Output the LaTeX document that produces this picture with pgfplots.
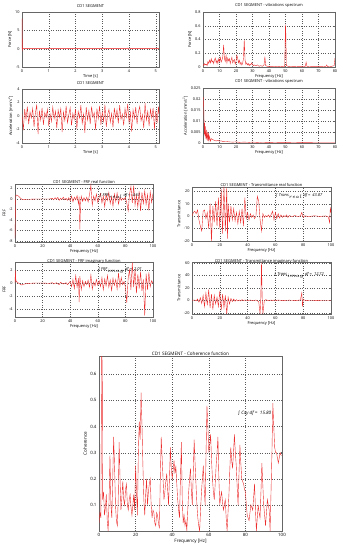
\documentclass[border=0pt]{standalone}
\usepackage{fontspec}
\setmainfont{Open Sans}
\newfontfamily\djv{DejaVu Sans}
\usepackage{pgfplots}
\pgfplotsset{compat=1.18}
\definecolor{lc}{RGB}{235,45,45}
\pgfplotsset{mat/.style={
 scale only axis, anchor=south west,
 font=\fontsize{4}{4.8}\selectfont,
 tick label style={font=\fontsize{3.8}{4.2}\selectfont},
 /pgf/number format/assume math mode=true,
 /pgf/number format/fixed,
 scaled ticks=false,
 grid=major, major grid style={dotted, black!65, line width=0.25pt},
 axis line style={black!60, line width=0.3pt},
 tick style={black!60, line width=0.3pt}, major tick length=1.2pt,
 tick align=inside,
 xticklabel style={yshift=1pt},
 yticklabel style={xshift=1pt},
 title style={yshift=-5pt},
 xlabel style={yshift=4.5pt},
 ylabel style={yshift=-3.5pt},
 cycle list={{lc, line width=0.3pt, mark=none, opacity=0.85}},
}}
\newcommand{\ann}{\fontsize{4}{4.8}\selectfont\itshape}
\newcommand{\integ}{{\djv\upshape ∫}}
\begin{document}
\begin{tikzpicture}
\useasboundingbox (0,0) rectangle (343pt,550pt);
% P1 force time
\begin{axis}[mat, at={(22pt,483pt)}, width=137pt, height=55pt,
 xmin=0, xmax=5.12, ymin=-5, ymax=10, xtick={0,1,2,3,4,5}, ytick={-5,0,5,10},
 title={CD1 SEGMENT}, xlabel={Time [s]}, ylabel={Force [N]}]
\addplot coordinates {(0,0) (0.005,8.2) (0.01,3) (0.02,-0.3) (0.03,0.1) (0.05,-0.05) (0.1,0) (1,0) (2,0) (3,0) (3.9,0) (3.95,0.15) (4.0,-0.1) (4.05,0) (5.12,0)};
\addplot[lc, line width=0.8pt, opacity=0.3] coordinates {(0,0) (5.12,0)};
\end{axis}
% P2 force spectrum
\begin{axis}[mat, at={(203pt,483pt)}, width=132pt, height=55pt,
 xmin=0, xmax=80, ymin=0, ymax=0.8, xtick={0,10,...,80}, ytick={0,0.2,0.4,0.6,0.8},
 title={CD1 SEGMENT - vibrations spectrum}, xlabel={Frequency [Hz]}, ylabel={Force [N]}]
\addplot coordinates {(0,0.04) (0.5,0.02) (1,0.05) (1.5,0.03) (2,0.04) (2.5,0.02) (3,0.08) (3.5,0.05) (4,0.10) (4.5,0.06) (5,0.12) (5.5,0.07) (6,0.09) (6.5,0.05) (7,0.11) (7.5,0.13) (8,0.06) (8.5,0.10) (9,0.05) (9.5,0.12) (10,0.08) (10.5,0.14) (11,0.07) (11.5,0.10) (12,0.15) (12.5,0.32) (13,0.12) (13.5,0.08) (14,0.17) (14.5,0.06) (15,0.13) (15.5,0.09) (16,0.12) (16.5,0.05) (17,0.10) (17.5,0.14) (18,0.06) (18.5,0.09) (19,0.11) (19.5,0.04) (20,0.08) (20.5,0.17) (21,0.13) (21.5,0.06) (22,0.10) (22.5,0.04) (23,0.07) (23.5,0.03) (24,0.05) (24.5,0.12) (25,0.39) (25.5,0.10) (26,0.04) (26.5,0.06) (27,0.03) (27.5,0.05) (28,0.02) (28.5,0.04) (29,0.03) (29.5,0.06) (30,0.04) (30.5,0.02) (31,0.03) (32,0.02) (33,0.03) (34,0.01) (35,0.02) (36,0.01) (37,0.03) (37.5,0.15) (38,0.02) (39,0.01) (40,0.01) (42,0.01) (44,0.005) (46,0.01) (48,0.005) (49.5,0.01) (50,0.62) (50.2,0.48) (50.5,0.02) (52,0.005) (55,0.01) (58,0.005) (60,0.005) (62,0.01) (62.5,0.07) (63,0.01) (66,0.005) (70,0.005) (72,0.005) (74.5,0.01) (75,0.03) (75.5,0.005) (78,0.01) (79.5,0.02) (80,0.13)};
\end{axis}
% P3 acceleration time
\begin{axis}[mat, at={(22pt,407pt)}, width=137pt, height=54pt,
 xmin=0, xmax=5.12, ymin=-4, ymax=4, xtick={0,1,2,3,4,5}, ytick={-4,-2,0,2,4},
 title={CD1 SEGMENT}, xlabel={Time [s]}, ylabel={Acceleration [mm/s\textsuperscript{2}]}]
\addplot coordinates {(0.00,0.3) (0.05,-2.1) (0.10,1.0) (0.15,-0.5) (0.20,1.4) (0.25,-1.2) (0.30,0.6) (0.35,-0.3) (0.40,1.1) (0.45,-1.6) (0.50,0.4) (0.55,1.7) (0.60,-2.7) (0.65,0.8) (0.70,-0.6) (0.75,1.2) (0.80,-1.3) (0.85,0.5) (0.90,-0.2) (0.95,1.0) (1.00,-1.5) (1.05,0.3) (1.10,-0.8) (1.15,1.3) (1.20,-0.4) (1.25,0.7) (1.30,-1.8) (1.35,0.9) (1.40,-0.2) (1.45,1.1) (1.50,-2.4) (1.55,0.6) (1.60,-0.7) (1.65,1.5) (1.70,-1.0) (1.75,0.2) (1.80,1.2) (1.85,-1.4) (1.90,0.4) (1.95,-0.5) (2.00,1.0) (2.05,-1.9) (2.10,0.7) (2.15,-0.3) (2.20,1.6) (2.25,-1.1) (2.30,0.3) (2.35,-2.5) (2.40,1.3) (2.45,-0.6) (2.50,0.8) (2.55,-1.2) (2.60,1.4) (2.65,-0.2) (2.70,0.5) (2.75,-2.0) (2.80,1.1) (2.85,-0.4) (2.90,1.5) (2.95,-1.3) (3.00,0.6) (3.05,-0.8) (3.10,1.7) (3.15,-1.6) (3.20,0.2) (3.25,1.0) (3.30,-0.9) (3.35,0.4) (3.40,-1.7) (3.45,1.2) (3.50,-0.3) (3.55,0.9) (3.60,-1.1) (3.65,1.6) (3.70,-0.5) (3.75,0.3) (3.80,-1.4) (3.85,1.1) (3.90,-0.2) (3.95,1.8) (4.00,-1.0) (4.05,0.5) (4.10,-2.3) (4.15,0.9) (4.20,-0.4) (4.25,1.3) (4.30,-1.2) (4.35,0.6) (4.40,1.4) (4.45,-0.7) (4.50,0.2) (4.55,-1.8) (4.60,1.9) (4.65,-0.6) (4.70,0.7) (4.75,-1.5) (4.80,1.0) (4.85,-0.3) (4.90,1.2) (4.95,-1.9) (5.00,0.8) (5.05,-1.0) (5.10,1.4) (5.12,0.3)};
\end{axis}
% P4 acceleration spectrum
\begin{axis}[mat, at={(203pt,407pt)}, width=132pt, height=55pt,
 xmin=0, xmax=80, ymin=0, ymax=0.025, xtick={0,10,...,80}, ytick={0,0.005,0.01,0.015,0.02,0.025},
 yticklabel style={/pgf/number format/precision=3},
 title={CD1 SEGMENT - vibrations spectrum}, xlabel={Frequency [Hz]}, ylabel={Acceleration [mm/s\textsuperscript{2}]}]
\addplot coordinates {(0,0.021) (0.3,0.02) (0.6,0.012) (0.8,0.004) (1,0.009) (1.2,0.003) (1.4,0.0075) (1.7,0.002) (2,0.006) (2.3,0.0015) (2.6,0.005) (3,0.001) (3.3,0.0045) (3.6,0.001) (4,0.003) (4.5,0.0008) (5,0.002) (6,0.0015) (7,0.0012) (8,0.0009) (9,0.0012) (10,0.0008) (11,0.001) (12,0.0006) (14,0.0007) (16,0.0005) (18,0.0004) (20,0.0005) (22,0.0003) (25,0.0004) (28,0.0003) (30,0.0004) (35,0.0002) (40,0.0003) (45,0.0002) (50,0.0002) (55,0.0001) (60,0.0002) (70,0.0001) (80,0.0001)};
\end{axis}
% P5 FRF real
\begin{axis}[mat, at={(15pt,308pt)}, width=138pt, height=58pt,
 xmin=0, xmax=100, ymin=-8.2, ymax=2.8, xtick={0,20,...,100}, ytick={-8,-6,-4,-2,0,2},
 title style={yshift=-4pt},
 title={CD1 SEGMENT - FRF real function}, xlabel={Frequency [Hz]}, ylabel={FRF}]
\addplot coordinates {(0,-7.5) (0.3,-2) (0.6,0.6) (1,0.7) (2,0.6) (3,0.4) (4,0.1) (5,-0.1) (6,-0.15) (8,-0.1) (10,-0.1) (12,-0.08) (15,-0.05) (18,-0.05) (20,-0.05) (22,-0.04) (25,-0.05) (27,0.1) (28,-0.2) (29,0.2) (30,-0.1) (31,0.25) (32,-0.3) (33,0.1) (34,-0.15) (35,0.3) (36,-0.2) (37,0.1) (38,-0.3) (39,0.2) (40,-0.4) (41,0.5) (42,-0.6) (43,0.3) (44,-0.2) (45,0.6) (46,-1.0) (46.5,0.4) (47,-5.8) (47.5,-1.0) (48,0.5) (49,-0.5) (50,0.2) (51,-0.4) (52,0.3) (53,-0.6) (54,0.8) (55,2.6) (55.5,0.3) (56,-1.2) (57,0.5) (58,-0.4) (59,0.9) (60,-0.7) (61,0.3) (62,1.0) (63,-0.8) (64,0.5) (65,-1.5) (66,0.8) (67,-0.3) (68,1.2) (69,-0.9) (70,0.4) (71,-1.4) (72,0.9) (73,-0.5) (74,1.1) (75,-1.0) (76,0.3) (77,-0.3) (78,0.1) (79,-0.2) (80,0.3) (81,-0.8) (82,-2.3) (83,0.9) (84,2.3) (85,-0.8) (86,2.5) (87,-1.2) (88,0.6) (89,-1.6) (90,1.4) (91,-2.3) (92,1.2) (93,-0.9) (94,1.5) (95,-1.1) (96,0.8) (97,-2.2) (98,1.3) (99,-0.7) (100,1.0)};
\node[font=\ann, inner sep=0.3pt] at (axis cs:76,0.5) {\integ\ FRF$_{real}$ df =\ \ 4.61};
\end{axis}
% P6 Transmittance real
\begin{axis}[mat, at={(192pt,309pt)}, width=139pt, height=54pt,
 xmin=0, xmax=100, ymin=-20, ymax=23.5, xtick={0,20,...,100}, ytick={-20,-10,0,10,20},
 title style={yshift=-4pt},
 title={CD1 SEGMENT - Transmittance real function}, xlabel={Frequency [Hz]}, ylabel={Transmittance}]
\addplot coordinates {(0,0) (1,3) (2,4) (3,2) (4,5) (5,-3) (6,-8) (7,-12) (8,4) (9,5) (10,-2) (11,3) (12,-10) (13,10) (14,-20) (15,8) (16,-5) (17,12) (18,-8) (19,15) (20,-10) (21,22) (22,-14) (23,24) (24,-12) (25,23) (25.5,-18) (26,10) (27,-5) (28,8) (29,-3) (30,6) (31,-4) (32,3) (33,-6) (34,4) (35,-5) (36,6) (37,-8) (38,15) (39,-2) (40,3) (41,-3) (42,2) (43,-1) (44,1) (45,-2) (46,0) (47,16) (48,12) (49,-3) (50,-12) (51,2) (52,-1) (53,0.5) (54,-0.5) (55,1) (56,-1) (57,1.5) (58,4) (59,-3) (60,3) (61,-2) (62,2) (63,-1.5) (64,1) (65,-1) (66,0.5) (67,-0.5) (68,1) (69,-1) (70,0.5) (72,-0.3) (74,0.5) (76,-0.3) (78,0.2) (79,3) (80,-1) (81,0.3) (84,-0.3) (88,0.3) (92,-0.2) (96,0.2) (98,-0.5) (99,-5) (99.5,7) (100,3)};
\node[font=\ann, inner sep=0.3pt] at (axis cs:77,16) {\integ\ Trans$_{real}$ df =\ \ 43.87};
\end{axis}
% P7 FRF imaginary
\begin{axis}[mat, at={(15pt,233pt)}, width=138pt, height=55pt,
 xmin=0, xmax=100, ymin=-5.2, ymax=3.3, xtick={0,20,...,100}, ytick={-4,-2,0,2},
 title style={yshift=-6pt},
 title={CD1 SEGMENT - FRF imaginary function}, xlabel={Frequency [Hz]}, ylabel={FRF}]
\addplot coordinates {(0,0) (0.3,2.0) (0.6,0.5) (1,0.3) (2,0.1) (3,0) (4,-0.2) (5,-0.25) (6,-0.15) (8,-0.05) (10,0) (15,0.05) (20,0.05) (25,0) (27,0.1) (28,-0.1) (30,0.1) (32,-0.2) (33,0.15) (35,-0.1) (37,0.1) (38,-0.2) (40,0.3) (41,-0.5) (42,0.6) (43,-0.8) (44,1.2) (45,-0.6) (46,0.8) (46.5,-2.9) (47,1.1) (48,-1.0) (49,0.4) (50,-0.5) (51,0.3) (52,-0.2) (53,0.5) (54,-0.6) (55,1.3) (56,-0.9) (57,0.2) (58,-0.4) (59,0.6) (60,-0.3) (61,0.4) (62,-0.5) (63,0.9) (64,-1.0) (65,0.7) (66,-0.4) (67,1.2) (68,-0.6) (69,0.5) (70,-1.1) (71,0.8) (72,-0.3) (73,0.6) (74,-0.9) (75,1.6) (76,-0.5) (77,0.9) (78,-0.2) (79,0.3) (80,-0.5) (81,-3.0) (82,0.8) (83,2.1) (84,-1.0) (85,3.2) (86,-0.6) (87,2.2) (88,-1.5) (89,1.4) (90,-0.8) (91,1.8) (92,-1.2) (93,0.6) (94,-5.0) (95,1.5) (96,-1.0) (97,1.7) (98,-0.5) (99,0.4) (100,0)};
\node[font=\ann, inner sep=0.3pt] at (axis cs:76,2.0) {\integ\ FRF$_{imag}$ df =\ \ 2.01};
\end{axis}
% P8 Transmittance imaginary
\begin{axis}[mat, at={(192pt,236pt)}, width=139pt, height=52pt,
 xmin=0, xmax=100, ymin=-22, ymax=61.5, xtick={0,20,...,100}, ytick={-20,0,20,40,60},
 title style={yshift=-6pt},
 title={CD1 SEGMENT - Transmittance imaginary function}, xlabel={Frequency [Hz]}, ylabel={Transmittance}]
\addplot coordinates {(0,0) (2,0.5) (3,-1) (4,2) (5,-3) (6,4) (7,-5) (8,8) (9,-10) (10,12) (11,-8) (12,17) (13,-12) (14,10) (15,-15) (16,8) (17,-6) (18,5) (19,-10) (20,15) (21,-16) (22,10) (23,-12) (24,8) (25,-22) (26,5) (27,-6) (28,3) (29,-2) (30,2) (31,-1.5) (32,1) (33,-1) (34,0.5) (35,-1) (36,1) (37,-0.5) (38,0.5) (40,-0.3) (42,0.3) (44,-0.5) (46,0.5) (47,-1) (48,-2) (49,-22) (49.5,5) (50,61) (50.5,2) (51,-22) (52,-1) (53,1) (55,-0.5) (57,0.3) (58,-0.5) (59,0.5) (60,-0.3) (62,0.3) (65,-0.2) (70,0.2) (75,-0.2) (78,0.5) (79,12) (79.5,-10) (80,1) (82,-0.2) (85,0.1) (90,-0.1) (95,0.1) (100,0)};
\node[font=\ann, inner sep=0.3pt] at (axis cs:77,40) {\integ\ Trans$_{imag}$ df =\ \ 12.72};
\end{axis}
% P9 Coherence
\begin{axis}[mat, at={(99pt,19pt)}, width=183pt, height=175pt,
 xmin=0, xmax=100, ymin=0, ymax=0.67, xtick={0,20,...,100}, ytick={0.1,0.2,0.3,0.4,0.5,0.6},
 font=\fontsize{4.6}{5.5}\selectfont,
 tick label style={font=\fontsize{4.4}{5}\selectfont},
 title style={yshift=-4pt},
 title={CD1 SEGMENT - Coherence function}, xlabel={Frequency [Hz]}, ylabel={Coherence}]
\addplot coordinates {(0,0.03) (0.5,0.07) (1,0.05) (1.5,0.75) (1.8,0.58) (2,0.12) (2.5,0.15) (3,0.06) (3.5,0.09) (4,0.14) (4.5,0.04) (5,0.0) (5.5,0.12) (6,0.29) (6.5,0.1) (7,0.05) (7.5,0.2) (8,0.36) (8.5,0.25) (9,0.1) (9.5,0.04) (10,0.02) (10.5,0.12) (11,0.34) (11.5,0.2) (12,0.08) (12.5,0.13) (13,0.19) (13.5,0.12) (14,0.1) (14.5,0.16) (15,0.18) (15.5,0.1) (16,0.08) (16.5,0.12) (17,0.14) (17.5,0.09) (18,0.06) (18.5,0.1) (19,0.14) (19.5,0.08) (20,0.25) (20.5,0.15) (21,0.06) (21.5,0.3) (22,0.42) (22.5,0.35) (23,0.53) (23.5,0.4) (24,0.25) (24.5,0.12) (25,0.06) (25.5,0.14) (26,0.2) (26.5,0.1) (27,0.15) (27.5,0.18) (28,0.2) (28.5,0.1) (29,0.05) (29.5,0.08) (30,0.07) (30.5,0.03) (31,0.02) (31.5,0.07) (32,0.06) (32.5,0.03) (33,0.01) (33.5,0.2) (34,0.36) (34.5,0.28) (35,0.2) (35.5,0.12) (36,0.15) (36.5,0.19) (37,0.22) (37.5,0.16) (38,0.1) (38.5,0.2) (39,0.32) (39.5,0.24) (40,0.2) (40.5,0.23) (41,0.27) (41.5,0.22) (42,0.25) (42.5,0.18) (43,0.12) (43.5,0.08) (44,0.05) (44.5,0.2) (45,0.34) (45.5,0.12) (46,0.03) (46.5,0.06) (47,0.02) (47.5,0.04) (48,0.0) (48.5,0.08) (49,0.15) (49.5,0.2) (50,0.24) (50.5,0.15) (51,0.1) (51.5,0.22) (52,0.35) (52.5,0.26) (53,0.18) (53.5,0.1) (54,0.05) (54.5,0.02) (55,0.0) (55.5,0.08) (56,0.15) (56.5,0.2) (57,0.25) (57.5,0.16) (58,0.1) (58.5,0.3) (59,0.48) (59.5,0.4) (60,0.3) (60.5,0.33) (61,0.37) (61.5,0.27) (62,0.2) (62.5,0.15) (63,0.12) (63.5,0.18) (64,0.25) (64.5,0.3) (65,0.36) (65.5,0.2) (66,0.1) (66.5,0.13) (67,0.15) (67.5,0.11) (68,0.08) (68.5,0.1) (69,0.12) (69.5,0.05) (70,0.0) (70.5,0.07) (71,0.14) (71.5,0.24) (72,0.32) (72.5,0.27) (73,0.24) (73.5,0.3) (74,0.37) (74.5,0.3) (75,0.25) (75.5,0.17) (76,0.1) (76.5,0.22) (77,0.33) (77.5,0.26) (78,0.2) (78.5,0.19) (79,0.18) (79.5,0.16) (80,0.15) (80.5,0.1) (81,0.06) (81.5,0.05) (82,0.04) (82.5,0.07) (83,0.1) (83.5,0.09) (84,0.08) (84.5,0.13) (85,0.18) (85.5,0.08) (86,0.0) (86.5,0.05) (87,0.1) (87.5,0.07) (88,0.05) (88.5,0.15) (89,0.26) (89.5,0.18) (90,0.1) (90.5,0.06) (91,0.02) (91.5,0.07) (92,0.12) (92.5,0.1) (93,0.08) (93.5,0.0) (94,0.15) (94.5,0.3) (95,0.49) (95.5,0.4) (96,0.32) (96.5,0.3) (97,0.3) (97.5,0.28) (98,0.26) (98.5,0.28) (99,0.3) (99.5,0.29) (100,0.29)};
\node[font=\fontsize{4.6}{5.5}\selectfont\itshape, inner sep=0.5pt] at (axis cs:85,0.45) {\integ\ Cxy df =\ \ 15.80};
\end{axis}
\end{tikzpicture}
\end{document}
